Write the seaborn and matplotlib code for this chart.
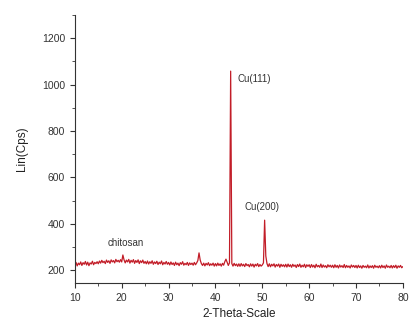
import numpy as np
import pandas as pd
import seaborn as sns
import matplotlib.pyplot as plt
from matplotlib.ticker import MultipleLocator

# XRD scan, 2-theta from 10 to 80 in 0.25 deg steps
two_theta = np.linspace(10, 80, 281)
intensity = [
    222, 234, 219, 231, 224, 236, 221, 233, 226, 238, 223, 235, 220, 232, 227, 239, 224, 234, 229, 237,
    228, 240, 231, 243, 233, 239, 229, 244, 234, 241, 230, 245, 236, 242, 232, 247, 237, 243, 235, 246,
    236, 266, 245, 232, 244, 236, 247, 231, 243, 235, 246, 230, 242, 234, 245, 229, 241, 233, 244, 230,
    238, 228, 240, 227, 237, 230, 241, 226, 236, 229, 239, 225, 235, 228, 240, 224, 234, 227, 238, 226,
    234, 223, 236, 225, 232, 221, 235, 224, 231, 220, 233, 226, 237, 222, 230, 224, 234, 221, 232, 225,
    231, 222, 234, 224, 232, 242, 275, 244, 229, 221, 231, 219, 230, 223, 233, 220, 228, 222, 231, 218,
    229, 219, 231, 221, 228, 218, 230, 222, 237, 248, 234, 221, 232, 1058, 229, 218, 230, 220, 227, 217,
    228, 217, 229, 219, 226, 216, 229, 220, 225, 215, 228, 218, 227, 214, 226, 219, 229, 216, 225, 218,
    223, 232, 416, 262, 229, 216, 228, 215, 226, 219, 228, 214, 225, 218, 227, 213, 226, 217, 224, 215,
    226, 214, 227, 216, 224, 213, 226, 217, 223, 212, 225, 216, 227, 213, 222, 215, 226, 212, 224, 217,
    224, 212, 225, 214, 222, 211, 226, 215, 221, 213, 227, 212, 223, 214, 220, 211, 224, 215, 222, 213,
    222, 211, 224, 213, 221, 210, 223, 214, 220, 212, 225, 211, 221, 213, 219, 210, 223, 214, 221, 212,
    221, 210, 222, 212, 219, 209, 221, 213, 218, 211, 223, 210, 219, 212, 220, 209, 222, 213, 218, 211,
    220, 210, 222, 212, 219, 209, 223, 213, 218, 211, 221, 210, 220, 212, 222, 209, 219, 213, 221, 211,
    216,
]

# peak labels: text, x, y
labels = ["chitosan", "Cu(111)", "Cu(200)"]
label_x = [16.9, 44.7, 46.2]
label_y = [316, 1023, 472]

df = pd.DataFrame({"two_theta": two_theta, "intensity": intensity})

sns.set_style("ticks")
plt.rcParams["font.family"] = ["Liberation Sans", "DejaVu Sans"]

fig = plt.figure(figsize=(4.09, 3.25), dpi=100)
ax = fig.add_axes([0.183, 0.129, 0.802, 0.825])
sns.lineplot(data=df, x="two_theta", y="intensity", ax=ax, color="#c21d28",
             linewidth=0.9, sort=False, estimator=None)

for t, x, y in zip(labels, label_x, label_y):
    ax.text(x, y, t, fontsize=7, color="#333333", ha="left", va="center")

ax.set_xlim(10, 80)
ax.set_ylim(145, 1300)
ax.xaxis.set_major_locator(MultipleLocator(10))
ax.xaxis.set_minor_locator(MultipleLocator(5))
ax.yaxis.set_major_locator(MultipleLocator(200))
ax.yaxis.set_minor_locator(MultipleLocator(100))
ax.set_yticks([200, 400, 600, 800, 1000, 1200])
ax.tick_params(which="major", length=3.5, width=0.8, labelsize=7.5, colors="#333333")
ax.tick_params(which="minor", length=2, width=0.6, colors="#333333")
ax.set_xlabel("2-Theta-Scale", fontsize=8.5, color="#222222")
ax.set_ylabel("Lin(Cps)", fontsize=8.5, color="#222222", labelpad=10)
sns.despine(ax=ax)
for s in ["left", "bottom"]:
    ax.spines[s].set_color("#333333")
    ax.spines[s].set_linewidth(0.8)

fig.savefig("out.png", dpi=100)
